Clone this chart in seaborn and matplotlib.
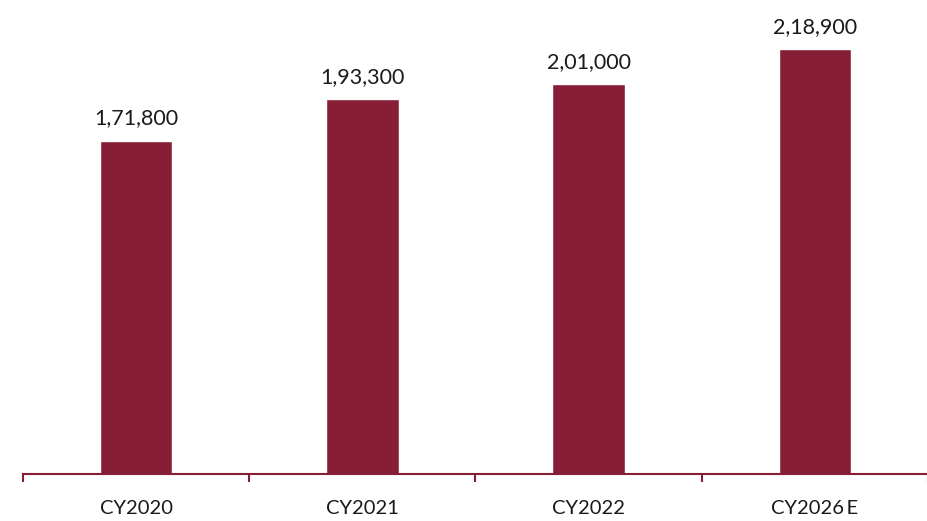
import matplotlib
matplotlib.use("Agg")
import matplotlib.pyplot as plt
import seaborn as sns
import pandas as pd
from matplotlib.ticker import FixedLocator

categories = ["CY2020", "CY2021", "CY2022", "CY2026E"]
tick_labels = ["CY2020", "CY2021", "CY2022", "CY2026\u2009E"]
values = [171800, 193300, 201000, 218900]


def indian_format(n):
    s = str(int(n))
    if len(s) <= 3:
        return s
    head, tail = s[:-3], s[-3:]
    groups = []
    while len(head) > 2:
        groups.insert(0, head[-2:])
        head = head[:-2]
    if head:
        groups.insert(0, head)
    return ",".join(groups + [tail])


sns.set_theme(style="white")
plt.rcParams["font.family"] = ["Lato", "DejaVu Sans"]

bar_color = "#861F35"
df = pd.DataFrame({"year": categories, "value": values})

fig = plt.figure(figsize=(9.28, 5.21), dpi=100)
ax = fig.add_axes([23 / 928, 47 / 521, 1 - 23 / 928, 1 - 47 / 521])

sns.barplot(data=df, x="year", y="value", color=bar_color, width=0.32,
            saturation=1, ax=ax)

ax.set_xlim(-0.5, 3.5)
ax.set_ylim(0, 244400)

for i, v in enumerate(values):
    ax.annotate(indian_format(v), (i, v), xytext=(0, 9), textcoords="offset points",
                ha="center", va="bottom", fontsize=15.5, color="#1a1a1a")

for side in ["top", "right", "left"]:
    ax.spines[side].set_visible(False)
ax.spines["bottom"].set_color(bar_color)
ax.spines["bottom"].set_linewidth(1.5)

ax.set_yticks([])
ax.set_xlabel("")
ax.set_ylabel("")
ax.set_xticks(range(len(categories)))
ax.set_xticklabels(tick_labels, fontsize=14.5, color="#1a1a1a")
ax.tick_params(axis="x", which="major", length=0, pad=19)
ax.xaxis.set_minor_locator(FixedLocator([-0.5, 0.5, 1.5, 2.5, 3.5]))
ax.tick_params(axis="x", which="minor", bottom=True, length=6, width=1.5,
               color=bar_color, direction="out")

fig.savefig("out.png", dpi=100)
